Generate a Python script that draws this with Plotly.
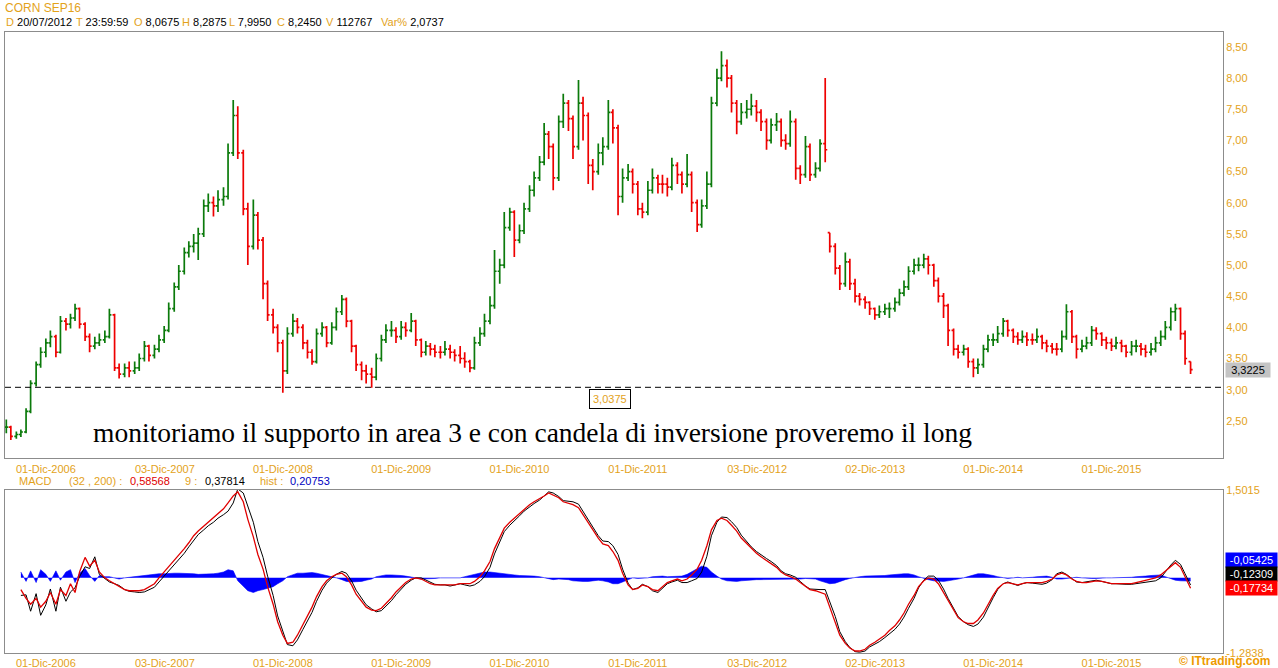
import plotly.graph_objects as go
import pandas as pd

# ---------------- DATA ----------------
dates = pd.date_range("2006-08-01", periods=241, freq="SMS")

closes = [
    2.40, 2.25, 2.28, 2.32, 2.65, 3.10, 3.40, 3.60, 3.75, 3.85,
    3.60, 4.10, 4.05, 4.15, 4.30, 4.05, 3.85, 3.70, 3.75, 3.80,
    3.85, 4.20, 3.35, 3.25, 3.35, 3.30, 3.35, 3.50, 3.70, 3.55,
    3.65, 3.80, 3.95, 4.30, 4.65, 4.90, 5.20, 5.30, 5.35, 5.50,
    5.95, 6.00, 5.95, 6.05, 6.10, 6.80, 7.40, 6.80, 5.90, 5.30,
    5.80, 5.40, 4.70, 4.20, 4.00, 3.75, 3.30, 3.90, 4.10, 4.00,
    3.75, 3.60, 3.45, 3.90, 4.00, 3.75, 4.00, 4.25, 4.45, 4.10,
    3.70, 3.40, 3.30, 3.25, 3.20, 3.50, 3.80, 3.95, 3.95, 3.85,
    4.00, 3.95, 4.10, 3.80, 3.60, 3.70, 3.65, 3.60, 3.60, 3.65,
    3.60, 3.55, 3.50, 3.45, 3.35, 3.75, 3.90, 4.10, 4.35, 4.90,
    5.00, 5.60, 5.85, 5.40, 5.55, 5.90, 6.20, 6.40, 6.65, 7.10,
    6.90, 6.40, 7.30, 7.60, 7.35, 6.90, 7.60, 7.40, 6.60, 6.50,
    6.80, 6.90, 7.45, 7.20, 6.10, 6.40, 6.50, 6.30, 5.90, 5.85,
    6.20, 6.40, 6.30, 6.30, 6.25, 6.60, 6.45, 6.30, 6.45, 6.00,
    5.65, 5.95, 6.30, 7.60, 8.00, 8.20, 8.00, 7.60, 7.30, 7.45,
    7.50, 7.55, 7.45, 7.30, 7.00, 7.25, 7.30, 7.00, 6.95, 7.30,
    6.55, 6.45, 6.90, 6.45, 6.55, 6.95, 6.85, 5.30, 4.95, 4.70,
    5.05, 4.70, 4.50, 4.45, 4.40, 4.30, 4.20, 4.25, 4.30, 4.30,
    4.40, 4.55, 4.65, 4.90, 5.00, 5.00, 5.10, 5.00, 4.75, 4.50,
    4.35, 3.95, 3.65, 3.60, 3.65, 3.45, 3.35, 3.40, 3.65, 3.80,
    3.80, 3.90, 4.10, 3.95, 3.85, 3.80, 3.85, 3.80, 3.80, 3.85,
    3.75, 3.70, 3.65, 3.65, 3.85, 4.25, 3.85, 3.65, 3.70, 3.75,
    3.95, 3.90, 3.80, 3.75, 3.70, 3.75, 3.70, 3.60, 3.70, 3.70,
    3.65, 3.60, 3.65, 3.75, 3.85, 4.00, 4.25, 4.30, 3.90, 3.50,
    3.3225,
]

highs = [
    2.52, 2.42, 2.33, 2.36, 2.70, 3.15, 3.45, 3.68, 3.82, 3.95,
    3.88, 4.18, 4.15, 4.22, 4.38, 4.32, 4.08, 3.90, 3.85, 3.90,
    3.95, 4.30, 4.22, 3.42, 3.42, 3.45, 3.45, 3.58, 3.78, 3.72,
    3.72, 3.88, 4.02, 4.40, 4.72, 5.00, 5.28, 5.38, 5.50, 5.60,
    6.05, 6.15, 6.10, 6.20, 6.25, 6.95, 7.65, 7.55, 6.85, 6.00,
    6.05, 5.85, 5.45, 4.75, 4.30, 4.05, 3.80, 4.00, 4.22, 4.15,
    4.05, 3.80, 3.65, 3.98, 4.08, 4.02, 4.08, 4.32, 4.52, 4.48,
    4.12, 3.72, 3.45, 3.40, 3.35, 3.58, 3.88, 4.05, 4.10, 4.00,
    4.10, 4.08, 4.23, 4.12, 3.82, 3.78, 3.75, 3.72, 3.70, 3.78,
    3.72, 3.65, 3.70, 3.60, 3.48, 3.85, 4.00, 4.22, 4.50, 5.24,
    5.10, 5.85, 5.92, 5.88, 5.65, 6.00, 6.28, 6.50, 6.75, 7.28,
    7.15, 6.95, 7.40, 7.75, 7.65, 7.40, 7.97, 7.70, 7.45, 6.70,
    6.95, 7.05, 7.65, 7.50, 7.25, 6.55, 6.62, 6.55, 6.35, 6.00,
    6.35, 6.55, 6.45, 6.45, 6.40, 6.72, 6.65, 6.50, 6.78, 6.50,
    6.05, 6.05, 6.50, 7.70, 8.15, 8.43, 8.30, 8.05, 7.65, 7.60,
    7.65, 7.75, 7.65, 7.50, 7.35, 7.35, 7.44, 7.35, 7.10, 7.48,
    7.35, 6.60, 7.07, 6.95, 6.65, 7.02, 8.00, 5.52, 5.35, 5.00,
    5.20, 5.10, 4.78, 4.55, 4.50, 4.42, 4.32, 4.35, 4.38, 4.40,
    4.48, 4.62, 4.75, 4.98, 5.10, 5.12, 5.18, 5.15, 5.02, 4.80,
    4.55, 4.38, 3.98, 3.72, 3.72, 3.68, 3.50, 3.50, 3.72, 3.88,
    3.90, 4.02, 4.15, 4.12, 3.98, 3.92, 3.95, 3.92, 3.90, 3.98,
    3.88, 3.80, 3.75, 3.75, 3.95, 4.37, 4.28, 3.88, 3.80, 3.85,
    4.02, 4.00, 3.92, 3.85, 3.82, 3.85, 3.80, 3.72, 3.78, 3.80,
    3.75, 3.72, 3.75, 3.85, 3.95, 4.10, 4.32, 4.38, 4.32, 3.95,
    3.45,
]

lows = [
    2.30, 2.19, 2.21, 2.24, 2.30, 2.62, 3.05, 3.35, 3.52, 3.68,
    3.52, 3.58, 3.95, 3.98, 4.10, 3.98, 3.78, 3.60, 3.65, 3.70,
    3.75, 3.82, 3.30, 3.18, 3.20, 3.20, 3.25, 3.30, 3.45, 3.45,
    3.50, 3.60, 3.75, 3.92, 4.25, 4.60, 4.85, 5.12, 5.20, 5.08,
    5.45, 5.85, 5.78, 5.85, 5.95, 6.05, 6.75, 6.70, 5.80, 5.00,
    5.25, 5.25, 4.45, 4.10, 3.90, 3.60, 2.95, 3.25, 3.85, 3.90,
    3.65, 3.50, 3.40, 3.42, 3.85, 3.68, 3.72, 3.95, 4.20, 4.00,
    3.60, 3.30, 3.15, 3.10, 3.03, 3.15, 3.45, 3.75, 3.85, 3.75,
    3.80, 3.85, 3.92, 3.70, 3.52, 3.55, 3.55, 3.52, 3.50, 3.55,
    3.50, 3.45, 3.42, 3.35, 3.28, 3.32, 3.70, 3.85, 4.05, 4.30,
    4.70, 4.95, 5.55, 5.13, 5.35, 5.50, 5.85, 6.10, 6.35, 6.60,
    6.70, 6.20, 6.35, 7.20, 7.15, 6.70, 6.85, 7.00, 6.30, 6.20,
    6.45, 6.60, 6.85, 6.95, 5.80, 6.00, 6.35, 6.15, 5.80, 5.75,
    5.80, 6.15, 6.15, 6.15, 6.10, 6.20, 6.30, 6.15, 6.25, 5.85,
    5.53, 5.60, 5.90, 6.25, 7.55, 7.95, 7.85, 7.45, 7.10, 7.25,
    7.35, 7.40, 7.30, 7.15, 6.85, 6.95, 7.15, 6.90, 6.85, 6.90,
    6.37, 6.30, 6.40, 6.35, 6.40, 6.50, 6.65, 5.20, 4.85, 4.60,
    4.65, 4.60, 4.40, 4.35, 4.30, 4.20, 4.12, 4.15, 4.20, 4.15,
    4.25, 4.35, 4.50, 4.60, 4.85, 4.90, 4.95, 4.85, 4.65, 4.40,
    4.15, 3.70, 3.55, 3.50, 3.55, 3.35, 3.20, 3.25, 3.35, 3.60,
    3.70, 3.75, 3.85, 3.85, 3.75, 3.72, 3.75, 3.70, 3.72, 3.75,
    3.65, 3.60, 3.58, 3.55, 3.60, 3.80, 3.75, 3.50, 3.60, 3.65,
    3.70, 3.80, 3.70, 3.65, 3.62, 3.65, 3.60, 3.52, 3.55, 3.60,
    3.55, 3.52, 3.55, 3.60, 3.70, 3.80, 3.95, 4.10, 3.80, 3.40,
    3.25,
]

# MACD(32,200) line, from the 4th date on
macd = [
    -0.20, -0.35, -0.45, -0.35, -0.50, -0.40, -0.25, -0.45, -0.20, -0.30,
    -0.10, -0.25, 0.10, 0.35, 0.20, 0.30, 0.10, 0.00, -0.05, -0.10,
    -0.15, -0.20, -0.22, -0.22, -0.22, -0.20, -0.15, -0.10, 0.00, 0.10, 0.20,
    0.30, 0.40, 0.50, 0.60, 0.72, 0.80, 0.88, 0.95, 1.02, 1.10,
    1.18, 1.28, 1.40, 1.47, 1.30, 1.00, 0.70, 0.40, 0.15, -0.15,
    -0.45, -0.75, -0.98, -1.12, -1.10, -0.98, -0.80, -0.65, -0.50, -0.32,
    -0.15, -0.05, 0.02, 0.06, 0.08, 0.02, -0.12, -0.28, -0.40, -0.50,
    -0.55, -0.56, -0.52, -0.44, -0.34, -0.24, -0.15, -0.08, -0.02, 0.00,
    -0.02, -0.06, -0.10, -0.12, -0.12, -0.12, -0.13, -0.12, -0.10, -0.10, -0.10,
    -0.06, 0.02, 0.12, 0.28, 0.50, 0.70, 0.85, 0.95, 1.02, 1.10,
    1.18, 1.25, 1.30, 1.35, 1.40, 1.45, 1.42, 1.37, 1.30, 1.28,
    1.25, 1.20, 1.08, 0.95, 0.82, 0.68, 0.58, 0.55, 0.45, 0.30,
    0.08, -0.12, -0.20, -0.18, -0.12, -0.15, -0.20, -0.22, -0.15, -0.08,
    -0.05, -0.02, -0.05, -0.02, 0.05, 0.15, 0.30, 0.55, 0.82, 0.98,
    1.02, 0.98, 0.90, 0.80, 0.68, 0.58, 0.50, 0.42, 0.36, 0.30,
    0.25, 0.18, 0.10, 0.05, 0.02, -0.02, -0.08, -0.15, -0.20, -0.22,
    -0.25, -0.28, -0.50, -0.75, -0.98, -1.12, -1.20, -1.25, -1.25, -1.22,
    -1.15, -1.10, -1.05, -0.98, -0.90, -0.82, -0.72, -0.60, -0.45, -0.30,
    -0.15, -0.05, 0.00, -0.02, -0.10, -0.25, -0.40, -0.55, -0.68, -0.75,
    -0.78, -0.78, -0.72, -0.60, -0.45, -0.30, -0.18, -0.10, -0.08, -0.10,
    -0.12, -0.10, -0.08, -0.08, -0.08, -0.08, -0.06, -0.02, 0.05, 0.08, 0.05,
    -0.02, -0.06, -0.08, -0.08, -0.06, -0.05, -0.06, -0.08, -0.10, -0.10,
    -0.10, -0.10, -0.10, -0.08, -0.06, -0.05, -0.02, 0.00, 0.05, 0.12,
    0.20, 0.26, 0.18, 0.02, -0.177,
]

hist = [
    0.10, -0.06, 0.12, -0.08, 0.14, 0.06, -0.06, 0.12, -0.04, 0.10,
    0.14, -0.08, 0.08, 0.16, 0.04, -0.06, 0.04, 0.02, 0.02, 0.00,
    -0.02, 0.00, 0.01, 0.02, 0.03, 0.04, 0.05, 0.06, 0.07, 0.07,
    0.08, 0.08, 0.08, 0.08, 0.07, 0.07, 0.06, 0.06, 0.06, 0.07,
    0.08, 0.10, 0.14, 0.12, -0.05, -0.15, -0.22, -0.25, -0.22, -0.20,
    -0.18, -0.15, -0.10, -0.05, 0.02, 0.06, 0.08, 0.08, 0.09, 0.09,
    0.08, 0.06, 0.04, 0.02, 0.00, -0.03, -0.06, -0.07, -0.07, -0.06,
    -0.04, -0.02, 0.02, 0.04, 0.05, 0.05, 0.05, 0.04, 0.03, 0.02,
    0.00, -0.02, -0.02, -0.02, -0.01, 0.00, 0.00, 0.01, 0.00, 0.00,
    0.02, 0.04, 0.06, 0.08, 0.10, 0.10, 0.09, 0.07, 0.06, 0.05,
    0.05, 0.04, 0.04, 0.03, 0.03, 0.02, 0.00, -0.02, -0.03, -0.02,
    -0.02, -0.03, -0.05, -0.06, -0.06, -0.06, -0.05, -0.04, -0.05, -0.07,
    -0.10, -0.10, -0.07, -0.03, 0.00, -0.01, -0.01, 0.00, 0.02, 0.03,
    0.03, 0.02, 0.02, 0.02, 0.03, 0.06, 0.10, 0.16, 0.20, 0.18,
    0.10, 0.03, -0.02, -0.05, -0.06, -0.06, -0.05, -0.04, -0.03, -0.03,
    -0.03, -0.03, -0.03, -0.03, -0.02, -0.02, -0.03, -0.03, -0.02, -0.01,
    -0.01, -0.02, -0.05, -0.08, -0.10, -0.09, -0.06, -0.03, -0.01, 0.01,
    0.02, 0.03, 0.03, 0.03, 0.04, 0.04, 0.05, 0.06, 0.07, 0.07,
    0.07, 0.05, 0.02, -0.01, -0.03, -0.05, -0.06, -0.06, -0.05, -0.04,
    -0.02, 0.00, 0.02, 0.05, 0.07, 0.07, 0.06, 0.04, 0.02, 0.00,
    -0.01, 0.00, 0.01, 0.00, 0.00, 0.01, 0.02, 0.03, 0.03, 0.01,
    -0.02, -0.02, -0.01, 0.00, 0.01, 0.00, -0.01, -0.01, -0.01, 0.00,
    0.00, 0.00, 0.00, 0.01, 0.01, 0.01, 0.02, 0.02, 0.03, 0.04,
    0.05, 0.05, 0.02, -0.02, -0.04, -0.05, -0.05, -0.05425,
]

tick_dates = ["2006-12-01", "2007-12-03", "2008-12-01", "2009-12-01", "2010-12-01",
              "2011-12-01", "2012-12-03", "2013-12-02", "2014-12-01", "2015-12-01"]
tick_labels = ["01-Dic-2006", "03-Dic-2007", "01-Dic-2008", "01-Dic-2009", "01-Dic-2010",
               "01-Dic-2011", "03-Dic-2012", "02-Dic-2013", "01-Dic-2014", "01-Dic-2015"]

price_ticks = [2.5, 3.0, 3.5, 4.0, 4.5, 5.0, 5.5, 6.0, 6.5, 7.0, 7.5, 8.0, 8.5]
support_level = 3.0375
last_close = 3.3225
macd_last, signal_last, hist_last = -0.17734, -0.12309, -0.05425

# ---------------- DERIVED ----------------
n = len(closes)
highs = [max(h, c) for h, c in zip(highs, closes)]
lows = [min(l, c) for l, c in zip(lows, closes)]
opens = [closes[0]] + [min(max(closes[i - 1], lows[i]), highs[i]) for i in range(1, n)]
mdates = dates[n - len(macd):]
signal = [m - h for m, h in zip(macd, hist)]

GOLD = "#E3A21A"
GRAY = "#8C8C8C"
FONT = "Liberation Sans, Arial, sans-serif"

W, H = 1278, 668
ML, MR, MT, MB = 5, 55, 32, 15
PW, PH = W - ML - MR, H - MT - MB


def px(xp):
    return (xp - ML) / PW


def py(yp):
    return (H - MB - yp) / PH


fig = go.Figure()

fig.add_trace(go.Ohlc(
    x=dates, open=opens, high=highs, low=lows, close=closes,
    increasing=dict(line=dict(color="#0B7A0B", width=1.7)),
    decreasing=dict(line=dict(color="#EE0000", width=1.7)),
    tickwidth=0.45, xaxis="x", yaxis="y", hoverinfo="skip", showlegend=False,
))

fig.add_trace(go.Scatter(
    x=mdates, y=hist, mode="lines", fill="tozeroy",
    line=dict(color="#0000FF", width=0.6), fillcolor="#0000FF",
    xaxis="x2", yaxis="y2", hoverinfo="skip", showlegend=False,
))
fig.add_trace(go.Scatter(
    x=mdates, y=signal, mode="lines", line=dict(color="#000000", width=1),
    xaxis="x2", yaxis="y2", hoverinfo="skip", showlegend=False,
))
fig.add_trace(go.Scatter(
    x=mdates, y=macd, mode="lines", line=dict(color="#E00000", width=1.3),
    xaxis="x2", yaxis="y2", hoverinfo="skip", showlegend=False,
))

xrange = ["2006-07-28", "2016-11-09"]
axis_font = dict(family=FONT, size=11, color=GOLD)
common_x = dict(type="date", range=xrange, tickmode="array", tickvals=tick_dates,
                ticktext=tick_labels, tickfont=axis_font, showgrid=False, zeroline=False,
                showline=True, linecolor=GRAY, linewidth=1, mirror=True, ticks="",
                automargin=False, fixedrange=True)
common_y = dict(side="right", tickfont=axis_font, showgrid=False, zeroline=False,
                showline=True, linecolor=GRAY, linewidth=1, mirror=True, ticks="",
                automargin=False, fixedrange=True, tickmode="array")

top_bottom = py(458)
macd_top = py(490)

fig.update_layout(
    width=W, height=H,
    margin=dict(l=ML, r=MR, t=MT, b=MB, autoexpand=False),
    paper_bgcolor="white", plot_bgcolor="white",
    separators=",.",
    showlegend=False,
    xaxis=dict(domain=[0, 1], anchor="y", rangeslider=dict(visible=False),
               ticklabelstandoff=1, **common_x),
    xaxis2=dict(domain=[0, 1], anchor="y2", matches="x", ticklabelstandoff=0, **common_x),
    yaxis=dict(domain=[top_bottom, 1], anchor="x", range=[1.903, 8.74],
               tickvals=price_ticks, tickformat=".2f", **common_y),
    yaxis2=dict(domain=[0, macd_top], anchor="x2", range=[-1.2838, 1.5015],
                tickvals=[1.5015, -1.2838], ticktext=["1,5015", "-1,2838"], **common_y),
)

# support line
fig.add_shape(type="line", xref="x domain", yref="y", x0=0, x1=1,
              y0=support_level, y1=support_level,
              line=dict(color="black", width=1, dash="6px,4px"))

ann = []


def txt(x, y, text, color=GOLD, size=11, xanchor="left", **kw):
    ann.append(dict(xref="paper", yref="paper", x=px(x), y=py(y), text=text,
                    showarrow=False, xanchor=xanchor, yanchor="middle",
                    font=dict(family=FONT, size=size, color=color), **kw))


# header
txt(3, 8, "CORN SEP16", size=12)
fields = [(4, "D", "20/07/2012"), (74, "T", "23:59:59"), (132, "O", "8,0675"),
          (180, "H", "8,2875"), (227, "L", "7,9950"), (275, "C", "8,2450"),
          (324, "V", "112767"), (379, "Var%", "2,0737")]
for x0, lab, val in fields:
    txt(x0, 22, f"<span style='color:{GOLD}'>{lab}</span> {val}", color="black")

# MACD legend
leg = [(17, "MACD", GOLD), (67, "(32 , 200) :", GOLD), (128, "0,58568", "#E00000"),
       (183, "9 :", GOLD), (203, "0,37814", "black"), (258, "hist :", GOLD), (288, "0,20753", "#0000C0")]
for x0, t, c in leg:
    txt(x0, 481, t, color=c)

# comment text
ann.append(dict(xref="paper", yref="paper", x=px(532), y=py(432),
                text="monitoriamo il supporto in area 3 e con candela di inversione proveremo il long",
                showarrow=False, xanchor="center", yanchor="middle",
                font=dict(family="Liberation Serif, Times New Roman, serif", size=27.5, color="black")))

# support box
ann.append(dict(xref="paper", yref="paper", x=px(610), y=py(399),
                text=f"{support_level:.4f}".replace('.', ','), showarrow=False,
                xanchor="center", yanchor="middle", bgcolor="white",
                bordercolor="black", borderwidth=1, borderpad=3,
                font=dict(family=FONT, size=11, color=GOLD)))

# last price box
ann.append(dict(xref="paper", yref="y", x=1, xshift=2, y=last_close,
                text=f"{last_close:.4f}".replace('.', ','), showarrow=False,
                xanchor="left", yanchor="middle", bgcolor="#C4C4C4", borderpad=1,
                width=42, align="center",
                font=dict(family=FONT, size=11, color="black")))

# MACD value boxes
for yc, val, bg in [(559.5, hist_last, "#0000FF"), (574, signal_last, "#000000"),
                    (587.5, macd_last, "#FF0000")]:
    ann.append(dict(xref="paper", yref="paper", x=1, xshift=2, y=py(yc),
                    text=f"{val:.5f}".replace('.', ','), showarrow=False,
                    xanchor="left", yanchor="middle", bgcolor=bg, borderpad=1,
                    width=49, align="center",
                    font=dict(family=FONT, size=11, color="white")))

# logo
ann.append(dict(xref="paper", yref="paper", x=px(1273), y=py(661),
                text="<b>© ITtrading.com</b>", showarrow=False,
                xanchor="right", yanchor="middle",
                font=dict(family=FONT, size=12, color="#EE9A00")))

fig.update_layout(annotations=ann)

fig.write_html("out.html", config={"displayModeBar": False},
               post_script="document.body.style.margin='0px';document.body.style.overflow='hidden';")
